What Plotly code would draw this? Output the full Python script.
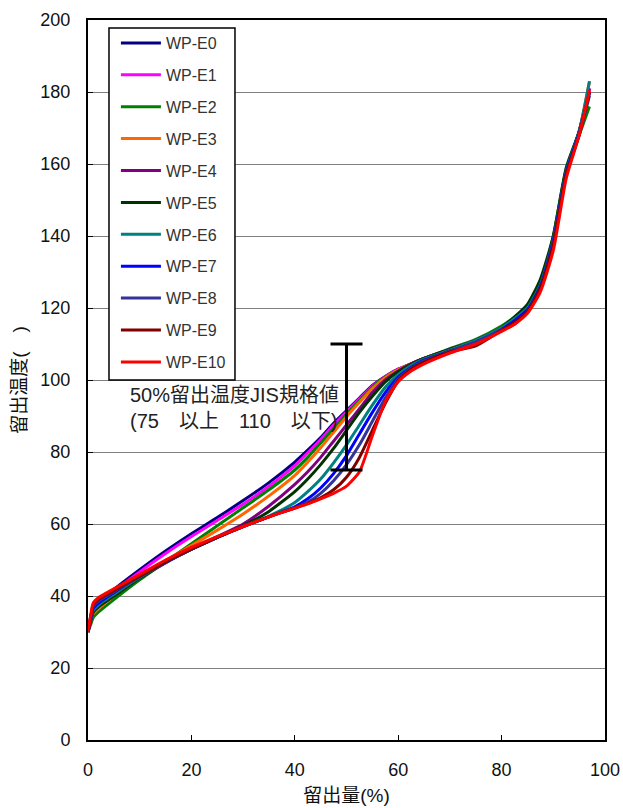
import plotly.graph_objects as go

# Distillation recovered (%) shared by every sample
recovered = [0, 0.5, 1, 2, 5, 10, 15, 20, 25, 30, 35, 40, 42.5, 45, 47.5, 50,
             52.5, 55, 57.5, 60, 62.5, 65, 70, 75, 80, 82.5, 85, 87.5, 90,
             92.5, 95, 97]

# Distillation temperature for each sample
temp_e0 = [30, 33, 35.5, 38, 41.8, 47.3, 52.5, 57.3, 61.8, 66.5, 71.5, 77.2,
           80.5, 84, 88, 91.5, 95, 98.5, 101, 103, 104.5, 106, 108.5, 111,
           114.5, 117, 120, 126.5, 139, 158, 169, 180]
temp_e1 = [30, 33, 35.5, 37.5, 41.3, 46.7, 51.8, 56.5, 61, 65.5, 70.5, 76.2,
           79.8, 83.5, 87.5, 91.2, 94.8, 98.3, 101, 103, 104.5, 106, 108.5,
           111, 114.5, 117, 120, 126.5, 139, 158, 169, 181]
temp_e2 = [30, 32, 34, 35.5, 39, 44.5, 49.5, 54.5, 59.5, 64.5, 69.5, 75,
           78.5, 82.5, 86.5, 90.5, 94.3, 98, 100.8, 102.8, 104.5, 106, 108.7,
           111.3, 115, 117.5, 120.5, 127, 140, 158.5, 168, 176]
temp_e3 = [30, 33, 35, 36.5, 40, 45.3, 49.8, 54, 58.3, 62.8, 67.8, 73.5,
           77.2, 81.2, 85.5, 89.8, 93.8, 97.6, 100.6, 102.8, 104.5, 106,
           108.5, 111, 114.5, 117, 120, 126.5, 139, 158, 169, 183]
temp_e4 = [30, 33, 35.5, 37, 40, 45, 49.2, 53, 56.5, 60, 65, 71, 74.5, 78.5,
           83, 87.5, 92, 96.5, 100, 102.5, 104.5, 106, 108.5, 111, 114.5,
           117, 120, 126.5, 139, 158, 169, 181]
temp_e5 = [30, 33, 35.5, 37, 40, 45, 49.3, 53, 56.3, 59.5, 63.5, 69, 72.5,
           76.5, 81, 86, 91, 95.5, 99.5, 102.3, 104.3, 106, 108.5, 111, 114.5,
           117.5, 121, 128, 140, 159, 169, 180]
temp_e6 = [30, 33.5, 36, 37.5, 40.5, 45.2, 49.3, 53, 56.3, 59.3, 62.2, 66,
           69, 72.5, 77, 82, 87.5, 93, 98, 101.5, 104, 105.8, 108.3, 111,
           114.5, 117, 120, 126.5, 139, 158, 169, 183]
temp_e7 = [30, 33.5, 36.5, 38, 41, 45.5, 49.4, 53, 56.3, 59.3, 62, 64.8, 67,
           70, 74, 79, 85, 91, 96.5, 100.8, 103.5, 105.5, 108, 110.5, 114,
           116.5, 119.5, 126, 138.5, 157.5, 168.5, 180]
temp_e8 = [30, 34, 37, 38.5, 41.2, 45.5, 49.5, 53, 56.3, 59.3, 62, 64.5, 66,
           68.5, 72, 76.5, 82, 88.5, 95, 100.3, 103.3, 105.3, 108, 110.5, 114,
           115.5, 119, 125.5, 138, 157, 168, 179]
temp_e9 = [30, 34, 37.5, 39, 41.5, 45.5, 49.5, 53, 56.3, 59.3, 62, 64.4,
           65.7, 67.3, 69.5, 73, 78.5, 86, 93.5, 99.8, 103, 105, 107.8, 109.5,
           113.8, 116, 119, 125.5, 137.5, 157, 168, 180]
temp_e10 = [30, 34.5, 38, 39.5, 42, 46, 50, 53.5, 56.5, 59.3, 62, 64.4, 65.6,
            67, 68.5, 70.5, 74.5, 84.5, 94, 99.5, 102.5, 104.5, 107.5, 110,
            113.5, 115.5, 118.5, 124.5, 136, 156, 168, 180.5]

sample_names = ["WP-E0", "WP-E1", "WP-E2", "WP-E3", "WP-E4", "WP-E5",
                "WP-E6", "WP-E7", "WP-E8", "WP-E9", "WP-E10"]
sample_temps = [temp_e0, temp_e1, temp_e2, temp_e3, temp_e4, temp_e5,
                temp_e6, temp_e7, temp_e8, temp_e9, temp_e10]
sample_colors = ["#000080", "#FF00FF", "#008000", "#FF6600", "#800080",
                 "#003300", "#008080", "#0000FF", "#333399", "#800000",
                 "#FF0000"]

# JIS specification for the 50 % distillation temperature
jis_point = 50
jis_min = 75
jis_max = 110

latin = "Liberation Sans, Arial, Noto Sans CJK JP, sans-serif"

fig = go.Figure()

for i, (name, temps, color) in enumerate(zip(sample_names, sample_temps,
                                              sample_colors)):
    fig.add_trace(go.Scatter(
        x=recovered, y=temps, name=name, mode="lines",
        line=dict(color=color, width=3, shape="spline", smoothing=0.6),
        legendgroup=f"g{i}",
    ))

# Spec range bar at 50 % recovered
fig.add_trace(go.Scatter(
    x=[jis_point], y=[jis_max], mode="markers",
    marker=dict(size=1, color="rgba(0,0,0,0)"),
    error_y=dict(type="data", symmetric=False, array=[0],
                 arrayminus=[jis_max - jis_min], color="black",
                 thickness=3, width=16),
    showlegend=False, hoverinfo="skip",
))

fig.add_annotation(
    x=7.7, y=92.2, xref="x", yref="y",
    text="50%留出温度JIS規格値<br>(75　以上　110　以下)",
    showarrow=False, xanchor="left", yanchor="middle", align="left",
    font=dict(family=latin, size=20, color="#222222"),
)

# Framed box behind the legend entries
fig.add_shape(
    type="rect", xref="paper", yref="paper",
    x0=0.0406, x1=0.2843, y0=0.5, y1=0.989,
    line=dict(color="black", width=1.5), fillcolor="white", layer="above",
)

axis_common = dict(
    showline=True, linecolor="black", linewidth=2, mirror=True,
    ticks="inside", ticklen=5, tickcolor="black", tickwidth=1,
    tickfont=dict(family=latin, size=18, color="#111111"),
    zeroline=False, automargin=False,
)

fig.update_xaxes(
    range=[0, 100], dtick=20, showgrid=False,
    title=dict(text="留出量(%)", standoff=10,
               font=dict(family=latin, size=19, color="#111111")),
    ticklabelstandoff=12,
    **axis_common,
)
fig.update_yaxes(
    range=[0, 200], dtick=20, showgrid=True, gridcolor="#808080",
    gridwidth=1,
    title=dict(text="留出温度(　)", standoff=9,
               font=dict(family=latin, size=19, color="#111111")),
    ticklabelstandoff=12,
    **axis_common,
)

fig.update_layout(
    width=623, height=808,
    margin=dict(l=88, r=18, t=20, b=68),
    paper_bgcolor="white", plot_bgcolor="white",
    showlegend=True,
    legend=dict(
        x=0.054, y=0.9917, xanchor="left", yanchor="top",
        bgcolor="rgba(0,0,0,0)", borderwidth=0,
        font=dict(family=latin, size=16, color="#333333"),
        tracegroupgap=8.1, traceorder="grouped", itemwidth=40,
    ),
)

fig.write_html("out.html")
